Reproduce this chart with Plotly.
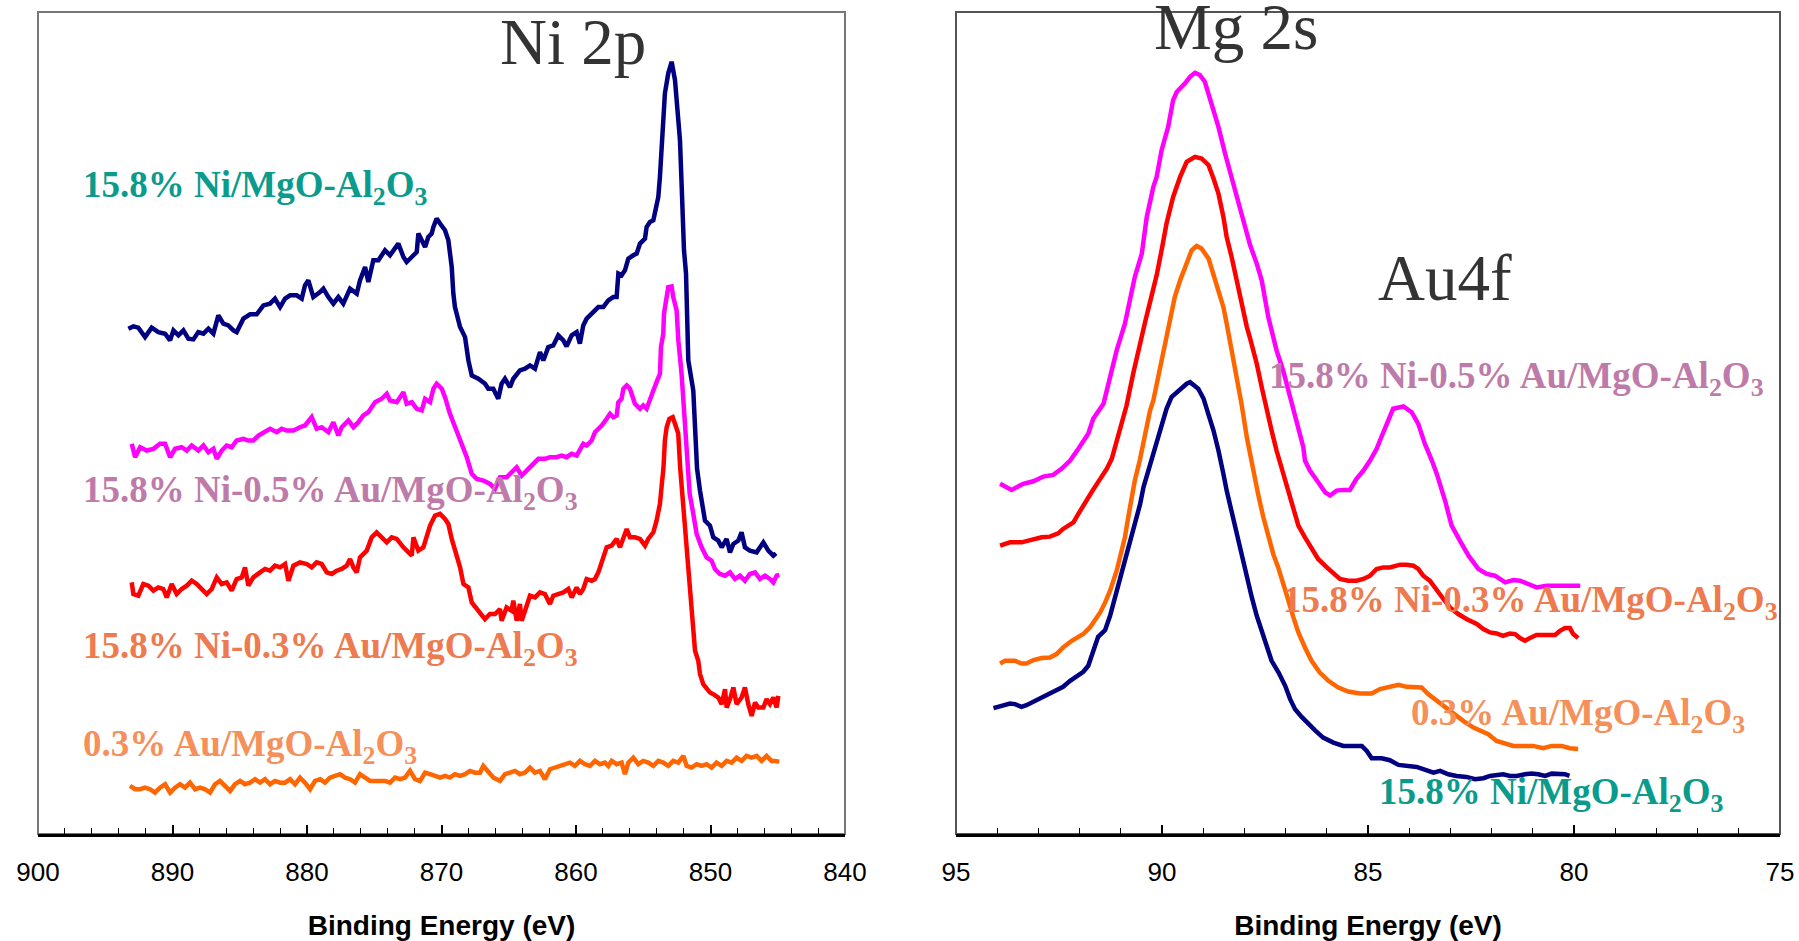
import plotly.graph_objects as go

# ---------------- Ni 2p panel (binding energy, eV ; intensity, a.u.) ----------------
NI_NAVY_X = [893.28, 892.91, 892.54, 892.04, 891.55, 891.05, 890.55, 890.18, 889.93, 889.56,
             889.19, 888.82, 888.45, 888.08, 887.70, 887.33, 886.96, 886.59, 886.22, 885.85,
             885.47, 885.23, 884.73, 884.23, 883.74, 883.24, 882.75, 882.38, 882.00, 881.63,
             881.26, 880.77, 880.39, 880.15, 879.90, 879.53, 879.03, 878.78, 878.41, 878.04,
             877.67, 877.30, 876.80, 876.30, 876.06, 875.68, 875.44, 875.07, 874.69, 874.20,
             873.83, 873.45, 873.21, 872.83, 872.59, 872.21, 871.84, 871.72, 871.47, 871.22,
             870.98, 870.73, 870.60, 870.36, 870.11, 869.74, 869.49, 869.24, 869.12, 869.00,
             868.62, 868.25, 868.00, 867.75, 867.26, 866.76, 866.52, 866.15, 865.78, 865.53,
             865.28, 864.91, 864.66, 864.17, 863.79, 863.42, 863.05, 862.68, 862.43, 862.06,
             861.69, 861.32, 860.94, 860.70, 860.32, 859.95, 859.71, 859.46, 859.21, 858.71,
             858.34, 857.97, 857.60, 857.23, 856.98, 856.85, 856.61, 856.36, 856.11, 855.74,
             855.49, 855.24, 854.87, 854.75, 854.50, 854.25, 854.01, 853.88, 853.76, 853.63,
             853.51, 853.39, 853.14, 852.89, 852.64, 852.39, 852.27, 852.15, 851.97, 851.82,
             851.77, 851.65, 851.28, 851.15, 851.00, 850.78, 850.41, 850.04, 849.79, 849.42,
             849.17, 848.80, 848.55, 848.30, 847.93, 847.69, 847.44, 847.07, 846.57, 846.07,
             845.70, 845.33, 845.13]
NI_NAVY_Y = [504.7, 507.0, 505.7, 496.3, 505.7, 501.3, 499.7, 493.0, 503.0, 498.0,
             503.0, 494.7, 494.0, 501.3, 499.7, 504.7, 499.7, 518.0, 509.7, 508.0,
             503.0, 501.3, 514.7, 519.0, 519.0, 528.0, 529.7, 534.7, 526.3, 534.7,
             538.0, 538.0, 534.7, 548.0, 553.0, 536.3, 541.3, 544.7, 536.3, 529.7,
             536.3, 529.7, 544.7, 539.7, 553.0, 566.3, 551.3, 573.0, 573.0, 583.0,
             578.0, 586.3, 589.7, 576.3, 571.3, 576.3, 581.3, 599.7, 593.0, 586.3,
             596.3, 599.7, 606.3, 614.7, 609.7, 603.0, 593.0, 566.3, 539.7, 526.3,
             506.3, 496.3, 473.0, 458.0, 454.7, 449.7, 444.7, 444.7, 434.7, 449.7,
             454.7, 446.3, 454.7, 463.0, 464.7, 468.0, 464.7, 481.3, 473.0, 486.3,
             488.0, 498.0, 493.0, 487.0, 498.0, 501.3, 489.7, 508.0, 514.7, 521.3,
             526.3, 526.3, 533.0, 536.3, 536.3, 559.7, 558.0, 563.0, 574.7, 578.0,
             579.7, 589.7, 594.7, 606.3, 611.3, 613.0, 629.7, 636.3, 656.3, 686.3,
             703.0, 739.7, 759.7, 771.3, 753.0, 719.7, 693.0, 649.7, 583.0, 559.7,
             519.7, 473.0, 443.0, 400.0, 365.0, 343.0, 313.0, 308.0, 296.3, 293.0,
             286.3, 294.7, 281.3, 289.7, 293.0, 301.3, 286.3, 283.0, 281.3, 291.3,
             283.0, 278.0, 280.3]

NI_MAGENTA_X = [893.03, 892.78, 892.41, 891.92, 891.42, 890.93, 890.55, 890.18, 889.81, 889.32,
                888.94, 888.57, 888.08, 887.70, 887.33, 886.96, 886.71, 886.34, 885.97, 885.60,
                885.23, 884.73, 884.36, 883.99, 883.61, 883.24, 882.75, 882.25, 881.88, 881.51,
                881.01, 880.52, 880.15, 879.65, 879.28, 878.91, 878.41, 878.04, 877.67, 877.42,
                876.92, 876.55, 876.18, 875.81, 875.44, 874.94, 874.45, 874.07, 873.83, 873.33,
                872.83, 872.59, 872.21, 871.84, 871.47, 871.22, 870.85, 870.60, 870.36, 869.98,
                869.74, 869.37, 869.00, 868.62, 868.37, 868.12, 867.75, 867.38, 866.89, 866.39,
                866.02, 865.65, 865.16, 864.66, 864.41, 864.04, 863.67, 863.17, 862.80, 862.31,
                861.94, 861.44, 861.07, 860.70, 860.32, 859.95, 859.71, 859.46, 859.21, 858.84,
                858.59, 858.34, 858.09, 857.72, 857.47, 857.23, 856.98, 856.85, 856.61, 856.48,
                856.23, 855.99, 855.86, 855.62, 855.24, 855.00, 854.75, 854.63, 854.25, 854.01,
                853.76, 853.68, 853.51, 853.46, 853.26, 853.14, 852.89, 852.77, 852.52, 852.39,
                852.15, 852.02, 851.90, 851.72, 851.55, 851.28, 851.03, 850.66, 850.29, 849.92,
                849.67, 849.30, 848.92, 848.55, 848.18, 847.81, 847.44, 847.07, 846.69, 846.32,
                845.95, 845.58, 845.33, 845.08, 844.88]
NI_MAGENTA_Y = [389.7, 376.3, 386.3, 383.0, 384.7, 389.7, 389.7, 376.3, 384.7, 386.3,
                383.0, 388.0, 383.0, 388.0, 381.3, 384.7, 374.7, 383.0, 388.0, 386.3,
                393.0, 394.7, 393.0, 393.0, 398.0, 401.3, 404.7, 401.3, 404.7, 403.0,
                403.0, 406.3, 408.0, 416.3, 404.7, 406.3, 401.3, 411.3, 398.0, 406.3,
                413.0, 406.3, 411.3, 418.0, 421.3, 431.3, 434.7, 439.7, 433.0, 431.3,
                441.3, 429.7, 431.3, 424.7, 423.0, 434.7, 431.3, 444.7, 449.7, 444.7,
                436.3, 419.7, 406.3, 394.7, 384.7, 376.3, 359.7, 354.7, 353.0, 349.7,
                344.7, 356.3, 356.3, 363.0, 366.3, 358.0, 363.0, 369.7, 374.7, 374.7,
                376.3, 376.3, 378.0, 376.3, 379.7, 378.0, 383.0, 389.7, 388.0, 393.0,
                401.3, 404.7, 408.0, 414.7, 419.7, 416.3, 418.0, 431.3, 434.7, 444.7,
                448.0, 444.7, 438.0, 429.7, 424.7, 428.0, 424.7, 429.7, 443.0, 451.3,
                459.7, 486.3, 499.7, 519.7, 533.0, 546.3, 547.0, 536.3, 523.0, 493.0,
                459.7, 433.0, 405.0, 370.0, 340.0, 319.7, 299.7, 286.3, 276.3, 273.0,
                264.7, 259.7, 258.0, 261.3, 254.7, 258.0, 253.0, 259.7, 261.3, 254.7,
                258.0, 254.7, 251.3, 258.0, 258.7]

NI_RED_X = [893.03, 892.91, 892.54, 892.17, 891.79, 891.42, 891.05, 890.68, 890.43, 890.06,
            889.69, 889.32, 888.94, 888.57, 888.20, 887.83, 887.46, 887.08, 886.71, 886.34,
            885.97, 885.60, 885.23, 884.85, 884.61, 884.36, 883.99, 883.49, 883.12, 882.75,
            882.38, 882.00, 881.63, 881.38, 881.01, 880.52, 880.02, 879.65, 879.28, 878.91,
            878.53, 878.16, 877.79, 877.42, 877.05, 876.80, 876.55, 876.30, 876.06, 875.56,
            875.19, 874.82, 874.45, 874.07, 873.70, 873.33, 872.83, 872.46, 872.21, 872.09,
            871.72, 871.35, 871.10, 870.85, 870.48, 870.11, 869.74, 869.49, 869.24, 869.00,
            868.62, 868.37, 868.00, 867.75, 867.38, 867.01, 866.77, 866.40, 866.02, 865.65,
            865.53, 865.16, 864.79, 864.66, 864.41, 864.17, 864.04, 863.79, 863.42, 863.05,
            862.68, 862.31, 861.94, 861.69, 861.32, 860.94, 860.57, 860.32, 859.95, 859.71,
            859.46, 859.21, 858.84, 858.59, 858.34, 858.09, 857.72, 857.35, 856.98, 856.73,
            856.36, 856.23, 855.99, 855.62, 855.24, 854.87, 854.63, 854.25, 854.01, 853.76,
            853.63, 853.50, 853.39, 853.26, 853.06, 852.81, 852.64, 852.40, 852.25, 852.02,
            851.77, 851.53, 851.28, 851.15, 850.91, 850.78, 850.54, 850.29, 850.04, 849.79,
            849.42, 849.17, 848.92, 848.80, 848.55, 848.30, 848.06, 847.69, 847.44, 847.19,
            846.94, 846.69, 846.45, 846.07, 845.83, 845.58, 845.33, 845.08, 844.96]
NI_RED_Y = [251.3, 239.7, 238.0, 249.7, 248.0, 243.0, 246.3, 244.7, 236.3, 249.7,
            239.7, 244.7, 248.0, 253.0, 249.7, 244.7, 239.7, 244.7, 256.3, 249.7,
            251.3, 243.0, 254.7, 256.3, 266.3, 248.0, 256.3, 261.3, 264.7, 263.0,
            268.0, 266.3, 269.7, 253.0, 268.0, 271.3, 269.7, 266.3, 271.3, 269.7,
            261.3, 259.7, 263.0, 264.7, 268.0, 274.7, 266.3, 261.3, 276.3, 283.0,
            296.3, 301.3, 296.3, 291.3, 296.3, 294.7, 286.3, 281.3, 278.0, 296.3,
            283.0, 286.3, 298.0, 308.0, 318.0, 319.7, 314.7, 309.7, 294.7, 283.0,
            266.3, 249.7, 246.3, 231.3, 224.7, 218.0, 214.7, 219.7, 219.7, 224.7,
            213.0, 226.3, 223.0, 233.0, 213.0, 229.7, 213.0, 223.0, 238.0, 236.3,
            241.3, 239.7, 229.7, 238.0, 239.7, 241.3, 244.7, 236.3, 246.3, 239.7,
            244.7, 254.7, 253.0, 254.7, 261.3, 271.3, 286.3, 288.0, 294.7, 286.3,
            299.7, 304.7, 296.3, 296.3, 294.7, 288.0, 294.7, 301.3, 313.0, 329.7,
            348.0, 365.0, 393.0, 406.3, 414.7, 416.3, 409.7, 400.0, 365.0, 326.3,
            283.0, 243.0, 213.0, 183.0, 173.0, 159.7, 149.7, 144.7, 141.3, 139.7,
            136.3, 129.7, 144.7, 126.3, 134.7, 146.3, 129.7, 136.3, 146.3, 129.7,
            118.0, 131.3, 126.3, 126.3, 134.7, 129.7, 136.3, 126.3, 138.0]

NI_ORANGE_X = [893.16, 892.78, 892.41, 892.04, 891.67, 891.30, 890.93, 890.55, 890.18, 889.81,
               889.44, 889.07, 888.70, 888.32, 887.95, 887.58, 887.21, 886.84, 886.47, 886.09,
               885.72, 885.35, 884.98, 884.61, 884.23, 883.86, 883.49, 883.12, 882.75, 882.38,
               882.00, 881.63, 881.26, 880.89, 880.52, 880.15, 879.77, 879.40, 879.03, 878.66,
               878.29, 877.92, 877.54, 877.17, 876.80, 876.43, 876.06, 875.68, 875.31, 874.94,
               874.57, 874.20, 873.83, 873.45, 873.08, 872.71, 872.34, 871.97, 871.60, 871.22,
               870.85, 870.48, 870.11, 869.74, 869.37, 869.00, 868.62, 868.25, 867.88, 867.51,
               867.14, 866.89, 866.52, 866.14, 865.65, 865.28, 864.91, 864.54, 864.17, 863.79,
               863.42, 863.05, 862.68, 862.31, 861.94, 861.56, 861.19, 860.82, 860.45, 860.08,
               859.71, 859.33, 858.96, 858.59, 858.22, 857.85, 857.60, 857.35, 856.98, 856.61,
               856.36, 856.11, 855.74, 855.37, 855.00, 854.63, 854.25, 853.88, 853.51, 853.14,
               852.77, 852.39, 852.02, 851.77, 851.40, 851.03, 850.66, 850.29, 849.92, 849.55,
               849.17, 848.80, 848.43, 848.06, 847.69, 847.32, 846.94, 846.57, 846.20, 845.83,
               845.46, 845.21, 844.88]
NI_ORANGE_Y = [48.0, 44.7, 44.7, 46.3, 44.7, 41.3, 46.3, 49.7, 41.3, 46.3,
               49.7, 46.3, 51.3, 44.7, 46.3, 44.7, 41.3, 49.7, 53.0, 48.0,
               43.0, 49.7, 53.0, 49.7, 51.3, 54.7, 51.3, 54.7, 49.7, 53.0,
               51.3, 51.3, 54.7, 49.7, 56.3, 51.3, 44.7, 53.0, 54.7, 51.3,
               56.3, 58.0, 59.7, 56.3, 54.7, 51.3, 59.7, 56.3, 53.0, 53.0,
               53.0, 53.0, 51.3, 56.3, 54.7, 56.3, 63.0, 54.7, 53.0, 61.3,
               59.7, 58.0, 56.3, 58.0, 56.3, 59.7, 58.0, 59.7, 63.0, 61.3,
               61.3, 68.0, 61.3, 56.3, 53.0, 59.7, 61.3, 63.0, 59.7, 61.3,
               66.3, 61.3, 63.0, 54.7, 64.7, 66.3, 68.0, 69.7, 71.3, 68.0,
               73.0, 69.7, 68.0, 73.0, 69.7, 71.3, 68.0, 73.0, 69.7, 71.3,
               59.7, 71.3, 76.3, 69.7, 73.0, 71.3, 68.0, 73.0, 71.3, 68.0,
               73.0, 71.3, 78.0, 68.0, 66.3, 69.7, 68.0, 69.7, 66.3, 71.3,
               68.0, 73.0, 71.3, 76.3, 73.0, 78.0, 76.3, 78.0, 73.0, 78.0,
               73.0, 73.0, 72.3]

# ---------------- Mg 2s / Au 4f panel ----------------
MG_MAGENTA_X = [93.93, 93.65, 93.37, 93.12, 92.88, 92.64, 92.44, 92.23, 92.03, 91.79,
                91.67, 91.42, 91.26, 91.10, 90.90, 90.79, 90.66, 90.49, 90.37, 90.21,
                90.13, 90.01, 89.85, 89.73, 89.64, 89.44, 89.32, 89.20, 89.08, 88.96,
                88.79, 88.63, 88.47, 88.27, 88.07, 87.86, 87.70, 87.58, 87.42, 87.22,
                87.06, 86.85, 86.73, 86.57, 86.53, 86.41, 86.21, 86.04, 85.92, 85.76,
                85.60, 85.44, 85.28, 85.11, 84.95, 84.79, 84.71, 84.51, 84.39, 84.14,
                83.94, 83.78, 83.62, 83.45, 83.33, 83.13, 82.97, 82.77, 82.56, 82.32,
                82.12, 81.92, 81.67, 81.47, 81.31, 81.11, 80.91, 80.66, 80.42, 80.18,
                79.85]
MG_MAGENTA_Y = [349.7, 343.7, 349.7, 352.3, 357.0, 358.7, 364.7, 373.0, 384.7, 399.7,
                414.7, 429.7, 456.3, 483.0, 509.7, 529.7, 556.3, 579.7, 616.3, 646.3,
                656.3, 683.0, 706.3, 733.0, 741.3, 749.7, 756.3, 760.3, 758.0, 751.3,
                729.7, 706.3, 679.7, 649.7, 619.7, 588.0, 569.7, 553.0, 516.3, 483.0,
                463.0, 429.7, 409.7, 386.3, 373.0, 363.0, 351.3, 341.3, 338.0, 343.0,
                343.7, 343.7, 354.7, 363.0, 373.0, 384.7, 393.0, 414.0, 424.7, 427.0,
                421.3, 409.7, 389.7, 373.0, 359.7, 333.0, 308.0, 293.0, 278.0, 264.7,
                259.7, 258.0, 251.3, 253.7, 253.0, 249.7, 246.3, 248.0, 248.0, 248.0,
                248.0]

MG_RED_X = [93.93, 93.69, 93.41, 93.16, 92.92, 92.72, 92.52, 92.40, 92.15, 92.03,
            91.87, 91.71, 91.50, 91.34, 91.22, 91.14, 90.98, 90.86, 90.70, 90.58,
            90.41, 90.25, 90.13, 90.01, 89.89, 89.73, 89.56, 89.40, 89.20, 89.04,
            88.87, 88.75, 88.63, 88.51, 88.43, 88.31, 88.19, 88.07, 87.94, 87.86,
            87.70, 87.58, 87.46, 87.34, 87.22, 87.10, 86.94, 86.77, 86.69, 86.53,
            86.37, 86.21, 86.00, 85.84, 85.68, 85.48, 85.28, 85.11, 84.95, 84.79,
            84.63, 84.47, 84.39, 84.22, 84.06, 83.90, 83.78, 83.66, 83.50, 83.33,
            83.17, 83.01, 82.81, 82.61, 82.36, 82.20, 82.04, 81.88, 81.72, 81.55,
            81.43, 81.31, 81.19, 81.07, 80.91, 80.66, 80.46, 80.34, 80.22, 80.10,
            80.02, 79.90]
MG_RED_Y = [288.0, 291.3, 291.3, 293.7, 296.3, 297.0, 300.3, 304.7, 311.3, 319.7,
            331.3, 341.3, 354.7, 364.7, 374.7, 386.3, 409.7, 428.0, 459.7, 483.0,
            511.3, 538.0, 558.0, 583.0, 609.7, 636.3, 656.3, 671.3, 676.3, 674.7,
            668.0, 654.7, 639.7, 616.3, 596.3, 576.3, 553.0, 529.7, 506.3, 494.7,
            469.7, 446.3, 423.0, 403.0, 383.0, 366.3, 343.0, 323.0, 308.0, 296.3,
            284.7, 274.7, 266.3, 259.7, 254.7, 253.0, 253.0, 254.7, 258.0, 264.7,
            266.3, 266.3, 267.0, 269.0, 269.0, 268.0, 264.7, 258.0, 253.0, 243.0,
            234.7, 226.3, 219.7, 214.7, 209.7, 204.7, 201.3, 200.3, 198.0, 200.3,
            199.7, 195.7, 193.0, 195.7, 198.7, 198.7, 198.7, 203.0, 205.7, 205.7,
            199.7, 195.7]

MG_ORANGE_X = [93.93, 93.81, 93.57, 93.41, 93.29, 93.12, 92.92, 92.72, 92.56, 92.40,
               92.19, 92.03, 91.91, 91.75, 91.63, 91.50, 91.38, 91.26, 91.10, 90.98,
               90.90, 90.82, 90.74, 90.66, 90.54, 90.41, 90.29, 90.21, 90.13, 90.05,
               89.97, 89.85, 89.77, 89.69, 89.56, 89.44, 89.36, 89.28, 89.16, 89.04,
               88.87, 88.75, 88.63, 88.51, 88.43, 88.35, 88.27, 88.15, 88.07, 87.94,
               87.78, 87.66, 87.54, 87.42, 87.30, 87.18, 87.06, 86.93, 86.81, 86.69,
               86.53, 86.37, 86.17, 85.96, 85.72, 85.48, 85.19, 84.91, 84.71, 84.47,
               84.26, 84.06, 83.90, 83.70, 83.54, 83.33, 83.13, 82.93, 82.69, 82.44,
               82.28, 82.08, 81.88, 81.67, 81.47, 81.23, 80.99, 80.75, 80.54, 80.30,
               80.10, 79.90]
MG_ORANGE_Y = [170.3, 173.0, 173.0, 170.3, 170.3, 173.7, 175.7, 176.3, 179.7, 186.3,
               193.0, 196.3, 199.7, 206.3, 213.0, 221.3, 231.3, 243.0, 263.0, 283.0,
               296.3, 316.3, 336.3, 353.0, 373.0, 399.7, 423.0, 433.0, 449.7, 466.3,
               483.0, 506.3, 523.0, 536.3, 553.0, 566.3, 574.7, 583.0, 587.3, 584.7,
               574.7, 559.7, 543.0, 526.3, 509.7, 493.0, 476.3, 449.7, 429.7, 396.0,
               359.7, 338.0, 316.3, 296.3, 279.7, 266.3, 251.3, 233.0, 216.3, 201.3,
               186.3, 173.0, 161.3, 153.0, 146.3, 142.3, 140.3, 140.3, 144.7, 147.0,
               149.0, 147.0, 146.3, 146.3, 139.7, 133.0, 126.3, 119.7, 113.0, 106.3,
               103.7, 99.7, 93.0, 90.3, 88.0, 88.0, 88.0, 85.7, 88.0, 88.0,
               85.7, 85.0]

MG_NAVY_X = [94.09, 93.85, 93.69, 93.57, 93.41, 93.29, 93.04, 92.80, 92.60, 92.40,
             92.23, 92.07, 91.91, 91.79, 91.71, 91.63, 91.55, 91.38, 91.26, 91.14,
             91.02, 90.90, 90.78, 90.66, 90.53, 90.45, 90.33, 90.21, 90.13, 90.01,
             89.89, 89.77, 89.56, 89.40, 89.32, 89.12, 88.99, 88.87, 88.75, 88.63,
             88.59, 88.51, 88.43, 88.31, 88.19, 88.07, 87.94, 87.82, 87.70, 87.58,
             87.46, 87.34, 87.17, 87.01, 86.89, 86.77, 86.61, 86.45, 86.29, 86.09,
             85.84, 85.60, 85.36, 85.15, 85.03, 84.91, 84.67, 84.47, 84.26, 84.06,
             83.82, 83.66, 83.41, 83.25, 83.05, 82.85, 82.61, 82.40, 82.20, 82.04,
             81.88, 81.72, 81.55, 81.39, 81.19, 81.03, 80.87, 80.70, 80.54, 80.38,
             80.22, 80.11]
MG_NAVY_Y = [125.7, 128.0, 130.3, 129.7, 127.0, 128.7, 133.7, 138.7, 143.0, 147.0,
             153.0, 157.7, 162.0, 168.0, 178.0, 189.7, 197.0, 203.7, 218.0, 236.3,
             254.7, 274.7, 293.0, 309.7, 329.7, 346.3, 363.0, 379.7, 391.3, 409.7,
             424.7, 436.3, 444.7, 449.7, 451.3, 444.7, 434.7, 419.7, 403.0, 383.0,
             376.3, 359.7, 343.0, 321.3, 301.3, 279.7, 258.0, 236.3, 218.0, 203.0,
             186.3, 173.0, 161.3, 148.0, 134.7, 124.7, 117.0, 109.7, 103.7, 96.3,
             91.3, 88.0, 88.0, 88.0, 83.0, 75.7, 75.7, 73.7, 69.0, 68.0,
             67.0, 64.7, 61.3, 63.0, 59.7, 58.0, 57.0, 54.7, 55.7, 58.0,
             59.0, 59.7, 58.0, 58.0, 59.7, 60.3, 59.7, 58.0, 60.3, 59.7,
             59.7, 58.0]

# ---------------- text ----------------
LABEL_NI = "15.8% Ni/MgO-Al<sub>2</sub>O<sub>3</sub>"
LABEL_NI05AU = "15.8% Ni-0.5% Au/MgO-Al<sub>2</sub>O<sub>3</sub>"
LABEL_NI03AU = "15.8% Ni-0.3% Au/MgO-Al<sub>2</sub>O<sub>3</sub>"
LABEL_03AU = "0.3% Au/MgO-Al<sub>2</sub>O<sub>3</sub>"
X_TITLE = "Binding Energy (eV)"

NAVY, MAGENTA, RED, ORANGE = "#000080", "#FF00FF", "#FF0000", "#FF6600"
C_TEAL, C_PURPLE, C_CORAL, C_ORANGE = "#0A9B8C", "#BE7BAA", "#EE7A50", "#F5905A"

# the photographed page comes out ~0.8 % smaller than the layout size; compensate
K = 1.0084

fig = go.Figure()


def add_line(x, y, color, xa, ya):
    fig.add_trace(go.Scatter(x=x, y=y, mode="lines", xaxis=xa, yaxis=ya,
                             line=dict(color=color, width=4.5), showlegend=False,
                             hoverinfo="skip"))


add_line(NI_NAVY_X, NI_NAVY_Y, NAVY, "x", "y")
add_line(NI_MAGENTA_X, NI_MAGENTA_Y, MAGENTA, "x", "y")
add_line(NI_RED_X, NI_RED_Y, RED, "x", "y")
add_line(NI_ORANGE_X, NI_ORANGE_Y, ORANGE, "x", "y")
add_line(MG_MAGENTA_X, MG_MAGENTA_Y, MAGENTA, "x2", "y2")
add_line(MG_RED_X, MG_RED_Y, RED, "x2", "y2")
add_line(MG_ORANGE_X, MG_ORANGE_Y, ORANGE, "x2", "y2")
add_line(MG_NAVY_X, MG_NAVY_Y, NAVY, "x2", "y2")

tickfont = dict(family="Liberation Sans, Arial, sans-serif", size=26, color="black")
titlefont = dict(family="Liberation Sans, Arial, sans-serif", size=28, color="black",
                 weight="bold")


def xaxis_cfg(domain, rng, dtick, minor_dtick):
    return dict(domain=domain, range=rng, tickmode="linear", tick0=rng[1], dtick=dtick,
                ticks="inside", ticklen=9, tickwidth=1.5, tickcolor="black",
                minor=dict(dtick=minor_dtick, tick0=rng[1], ticks="inside", ticklen=6,
                           tickwidth=1.2, tickcolor="black", showgrid=False),
                showline=True, linecolor="black", linewidth=2.5, showgrid=False,
                zeroline=False, tickfont=tickfont, ticklabelstandoff=13,
                title=dict(text=X_TITLE, font=titlefont, standoff=30))


def yaxis_cfg(anchor):
    return dict(domain=[0, 1], range=[0, 821], anchor=anchor, showticklabels=False,
                ticks="", showgrid=False, zeroline=False, showline=False)


ann_serif = dict(family="Liberation Serif, Times New Roman, serif", size=65, color="#333333")


def lab(text, x, y, color, xref, yref):
    return dict(text=text, x=x, y=y, xref=xref, yref=yref, xanchor="left", yanchor="middle",
                yshift=-4, showarrow=False,
                font=dict(family="Liberation Serif, Times New Roman, serif", size=37,
                          color=color, weight="bold"))


annotations = [
    dict(text="Ni 2p", x=860.2, y=791.5, xref="x", yref="y", xanchor="center",
         yanchor="middle", showarrow=False, font=ann_serif),
    dict(text="Mg 2s", x=88.2, y=806.0, xref="x2", yref="y2", xanchor="center",
         yanchor="middle", showarrow=False, font=ann_serif),
    dict(text="Au4f", x=84.8, y=555.0, xref="x2", yref="y2", xanchor="left",
         yanchor="middle", showarrow=False, font=ann_serif),
    lab(LABEL_NI, 896.8, 649.5, C_TEAL, "x", "y"),
    lab(LABEL_NI05AU, 896.8, 345.5, C_PURPLE, "x", "y"),
    lab(LABEL_NI03AU, 896.8, 189.0, C_CORAL, "x", "y"),
    lab(LABEL_03AU, 896.8, 91.5, C_ORANGE, "x", "y"),
    lab(LABEL_NI05AU, 87.46, 459.0, C_PURPLE, "x2", "y2"),
    lab(LABEL_NI03AU, 87.12, 235.0, C_CORAL, "x2", "y2"),
    lab(LABEL_03AU, 84.01, 122.5, C_ORANGE, "x2", "y2"),
    lab(LABEL_NI, 84.77, 43.0, C_TEAL, "x2", "y2"),
]

shapes = [
    dict(type="rect", xref="x domain", yref="y domain", x0=0, x1=1, y0=0, y1=1,
         line=dict(color="#777777", width=2), layer="below"),
    dict(type="rect", xref="x2 domain", yref="y2 domain", x0=0, x1=1, y0=0, y1=1,
         line=dict(color="#555555", width=2), layer="below"),
]

fig.update_layout(
    width=round(1799 * K), height=round(941 * K),
    margin=dict(l=38 * K, r=19 * K, t=12 * K, b=108 * K),
    paper_bgcolor="white", plot_bgcolor="white",
    xaxis=xaxis_cfg([0, 0.46326], [900, 840], 10, 2),
    xaxis2=xaxis_cfg([0.52698, 1], [95, 75], 5, 1),
    yaxis=yaxis_cfg("x"),
    yaxis2=yaxis_cfg("x2"),
    annotations=annotations,
    shapes=shapes,
    showlegend=False,
)
fig.update_layout(xaxis2=dict(anchor="y2"))

fig.write_html("out.html")
